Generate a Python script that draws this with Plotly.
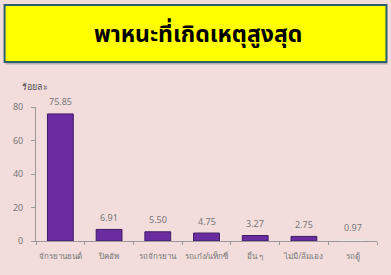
import plotly.graph_objects as go

categories = ["จักรยานยนต์", "ปิคอัพ", "รถจักรยาน", "รถเก๋ง/แท็กซี่", "อื่น ๆ", "ไม่มี/ล้มเอง", "รถตู้"]
values = [75.85, 6.91, 5.50, 4.75, 3.27, 2.75, 0.97]
labels = ["75.85", "6.91", "5.50", "4.75", "3.27", "2.75", "0.97"]
y_ticks = [0, 20, 40, 60, 80]
title_text = "พาหนะที่เกิดเหตุสูงสุด"
y_title = "ร้อยละ"

W, H = 391, 275
L, R, T, B = 35.5, 13.5, 107, 34
PW, PH = W - L - R, H - T - B

def px(x):
    return (x - L) / PW

def py(y):
    return (H - B - y) / PH

bar_colors = ["#6a2ca0"] * 6 + ["#f7f0f0"]
line_colors = ["#3e1a63"] * 6 + ["#e8dede"]

fig = go.Figure(go.Bar(
    x=categories, y=values,
    marker=dict(color=bar_colors, line=dict(color=line_colors, width=1)),
    width=0.53, hoverinfo="skip",
))

shapes = [
    dict(type="rect", xref="paper", yref="paper", x0=px(5), x1=px(388), y0=py(64.5), y1=py(62),
         fillcolor="#b8b0b0", line=dict(width=0), layer="below"),
    dict(type="rect", xref="paper", yref="paper", x0=px(4), x1=px(387), y0=py(62), y1=py(5),
         fillcolor="#ffff00", line=dict(color="#2d5f6a", width=2)),
]

annotations = [
    dict(text="<b>" + title_text + "</b>", xref="paper", yref="paper", x=px(198), y=py(35),
         showarrow=False, font=dict(size=23, color="#000000", family="Noto Sans Thai, Noto Sans, sans-serif"),
         xanchor="center", yanchor="middle"),
    dict(text=y_title, xref="paper", yref="paper", x=px(19), y=py(86),
         showarrow=False, font=dict(size=9, color="#555555", family="Noto Sans, sans-serif"),
         xanchor="left", yanchor="middle"),
]
for c, v, t in zip(categories, values, labels):
    annotations.append(dict(text=t, x=c, y=v, xref="x", yref="y", showarrow=False,
                            yanchor="middle", yshift=12,
                            font=dict(size=9, color="#777777", family="Noto Sans, sans-serif")))

fig.update_layout(
    width=W, height=H,
    margin=dict(l=L, r=R, t=T, b=B),
    paper_bgcolor="#f2dddc", plot_bgcolor="#f2dddc",
    showlegend=False,
    shapes=shapes,
    annotations=annotations,
    xaxis=dict(showline=True, linecolor="#9a9a9a", linewidth=1, ticks="outside", tickson="boundaries",
               ticklen=3, tickcolor="#9a9a9a", showgrid=False, ticklabelstandoff=7,
               tickfont=dict(size=8, color="#777777", family="Noto Sans, sans-serif"), tickangle=0),
    yaxis=dict(range=[0, 80], tickvals=y_ticks, showline=True, linecolor="#9a9a9a", linewidth=1,
               ticks="outside", ticklen=4, tickcolor="#9a9a9a", showgrid=False, zeroline=False,
               ticklabelstandoff=6,
               tickfont=dict(size=9, color="#777777", family="Noto Sans, sans-serif")),
)

fig.write_html("out.html", config={"displayModeBar": False},
               post_script="document.body.style.margin='0';document.body.style.background='#f2dddc';")
